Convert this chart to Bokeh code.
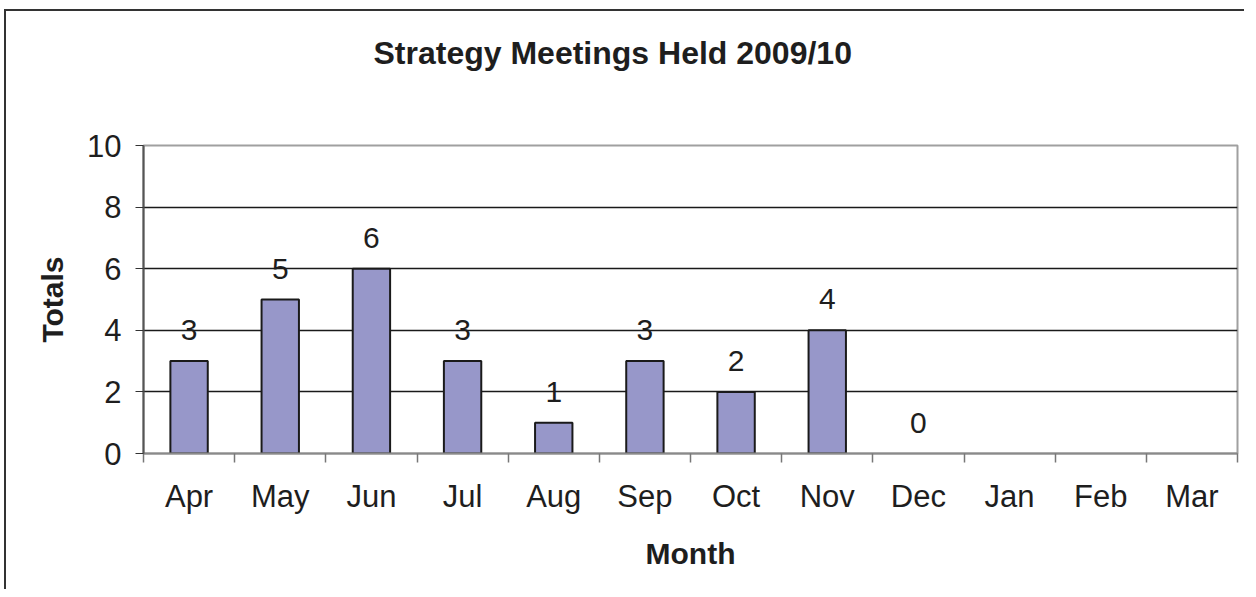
from bokeh.plotting import figure
from bokeh.models import ColumnDataSource, FixedTicker, Range1d, CDSView, BooleanFilter
from bokeh.embed import file_html
from bokeh.resources import INLINE
from bokeh.core.properties import value

# ---- data ----
months = ["Apr", "May", "Jun", "Jul", "Aug", "Sep", "Oct", "Nov", "Dec", "Jan", "Feb", "Mar"]
totals = [3, 5, 6, 3, 1, 3, 2, 4, 0]          # Jan-Mar not yet recorded
y_ticks = [0, 2, 4, 6, 8, 10]
title_text = "Strategy Meetings Held 2009/10"

FONT = "Liberation Sans"
TXT = "#1e1e1e"

centers = [i + 0.5 for i in range(len(months))]
bounds = list(range(len(months) + 1))

src = ColumnDataSource(dict(
    x=centers[:len(totals)],
    top=totals,
    label=[str(v) for v in totals],
))
view = CDSView(filter=BooleanFilter([v > 0 for v in totals]))

p = figure(width=1240, height=580,
           x_range=Range1d(0, len(months)), y_range=Range1d(y_ticks[0], y_ticks[-1]),
           output_backend="svg", toolbar_location=None,
           min_border_left=137, min_border_right=9,
           min_border_top=134, min_border_bottom=138,
           background_fill_color="white", border_fill_color="white",
           styles={"border-left": "2px solid #333333", "border-top": "2px solid #333333",
                   "margin-left": "4px", "margin-top": "9px"})

p.vbar(x="x", top="top", width=0.41, source=src, view=view,
       fill_color="#9797C9", line_color="#1a1a1a", line_width=2)

p.text(x="x", y="top", text="label", source=src,
       text_align="center", text_baseline="alphabetic", y_offset=-31,
       text_font=value(FONT), text_font_size="30px", text_color=TXT)

# frame
p.outline_line_color = "#a0a0a0"
p.outline_line_width = 2

# grid
p.xgrid.visible = False
p.ygrid.ticker = FixedTicker(ticks=y_ticks[1:-1])
p.ygrid.grid_line_color = "#1a1a1a"
p.ygrid.grid_line_width = 1.3

# y axis
ya = p.yaxis[0]
ya.ticker = FixedTicker(ticks=y_ticks)
ya.axis_line_color = "#555555"
ya.axis_line_width = 2
ya.major_tick_out = 8
ya.major_tick_in = 0
ya.minor_tick_out = 0
ya.minor_tick_in = 0
ya.major_tick_line_color = "#333333"
ya.major_label_text_font = FONT
ya.major_label_text_font_size = "31px"
ya.major_label_text_color = TXT
ya.major_label_standoff = 14
ya.axis_label = "Totals"
ya.axis_label_text_font = FONT
ya.axis_label_text_font_style = "bold"
ya.axis_label_text_font_size = "30px"
ya.axis_label_text_color = TXT
ya.axis_label_standoff = 15

# x axis: labels at category centres, tick marks at category boundaries
xa = p.xaxis[0]
xa.ticker = FixedTicker(ticks=centers, minor_ticks=bounds)
xa.major_label_overrides = {c: m for c, m in zip(centers, months)}
xa.axis_line_color = "#8a8a8a"
xa.axis_line_width = 2
xa.major_tick_out = 0
xa.major_tick_in = 0
xa.minor_tick_out = 9
xa.minor_tick_in = 0
xa.minor_tick_line_color = "#777777"
xa.minor_tick_line_width = 1.5
xa.major_label_text_font = FONT
xa.major_label_text_font_size = "31px"
xa.major_label_text_color = TXT
xa.major_label_standoff = 16
xa.axis_label = "Month"
xa.axis_label_text_font = FONT
xa.axis_label_text_font_style = "bold"
xa.axis_label_text_font_size = "30px"
xa.axis_label_text_color = TXT
xa.axis_label_standoff = 20

# title
p.title.text = title_text
p.title.text_font = FONT
p.title.text_font_style = "bold"
p.title.text_font_size = "32px"
p.title.text_color = TXT
p.title.align = "left"
p.title.offset = 230
p.title.standoff = 0
p.title.padding = (0, 0, 0, 75)

open("out.html", "w").write(file_html(p, INLINE))
